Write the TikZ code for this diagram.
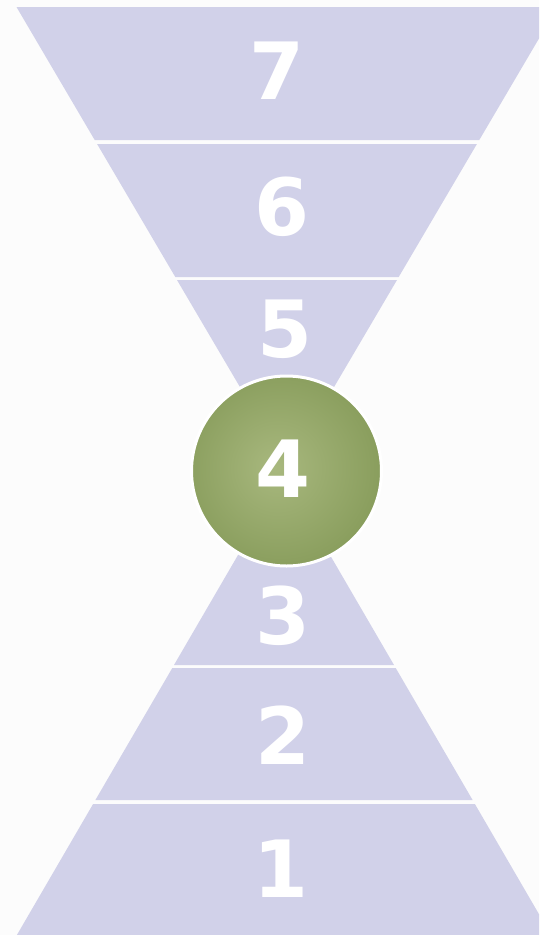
\documentclass[tikz,border=0pt]{standalone}
\usepackage{fontspec}
\newfontfamily\numfont{DejaVu Sans}
\definecolor{lav}{RGB}{209,209,233}
\definecolor{bgc}{RGB}{252,252,252}
\definecolor{gin}{RGB}{168,184,126}
\definecolor{gmid}{RGB}{140,160,96}
\definecolor{gout}{RGB}{110,135,64}
\pgfdeclareradialshading{greenball}{\pgfpoint{-3bp}{1bp}}{color(0bp)=(gin); color(24bp)=(gmid); color(48bp)=(gout); color(50bp)=(gout)}
\tikzset{
  seg/.style={fill=lav, draw=none},
  num/.style={text=white, font=\numfont\bfseries\fontsize{79}{79}\selectfont, inner sep=0pt, anchor=center},
  ball/.style={circle, minimum size=190pt, inner sep=0pt, shading=greenball, draw=white, line width=3pt}
}
\begin{document}
\begin{tikzpicture}[x=1pt,y=-1pt]
\useasboundingbox (0,0) rectangle (539,935);
\fill[bgc] (0,0) rectangle (539,935);
\begin{scope}
\clip (0,0) rectangle (539,935);
% top (inverted) triangle segments
\path[seg] (16.5,7) -- (557.5,7) -- (479.3,140) -- (94.7,140) -- cycle;
\path[seg] (97.1,144) -- (476.9,144) -- (398.7,277) -- (175.3,277) -- cycle;
\path[seg] (177,280) -- (397,280) -- (287,467) -- cycle;
% bottom triangle segments
\path[seg] (284,476) -- (394,665) -- (174,665) -- cycle;
\path[seg] (172.3,668) -- (395.7,668) -- (472.6,800) -- (95.4,800) -- cycle;
\path[seg] (93.1,804) -- (474.9,804) -- (551.1,935) -- (16.9,935) -- cycle;
\end{scope}
% center ball
\node[ball] (c4) at (286.5,471) {};
% numbers
\node[num] (n7) at (277,71) {7};
\node[num] (n6) at (282,207) {6};
\node[num] (n5) at (285,329) {5};
\node[num] (n4) at (283,469) {4};
\node[num] (n3) at (283,616) {3};
\node[num] (n2) at (283,735) {2};
\node[num] (n1) at (281,869) {1};
\end{tikzpicture}
\end{document}
